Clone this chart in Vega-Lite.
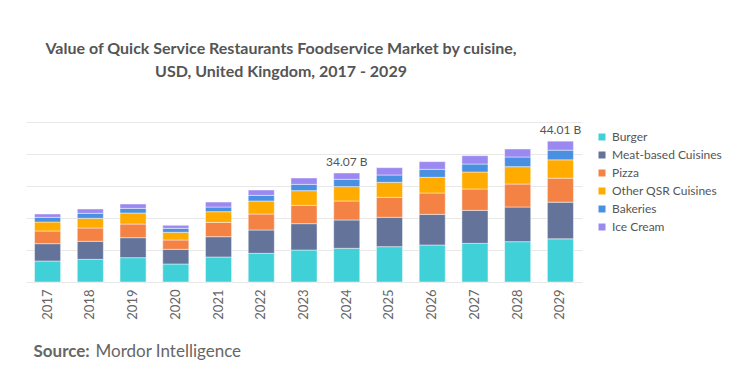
{
  "$schema": "https://vega.github.io/schema/vega-lite/v6.json",
  "width": 556,
  "height": 160,
  "autosize": "none",
  "padding": {"left": 26, "top": 122, "right": 167, "bottom": 85},
  "background": "white",
  "config": {"font": "Lato", "view": {"stroke": null}},
  "title": {
    "text": ["Value of Quick Service Restaurants Foodservice Market by cuisine,", "USD, United Kingdom, 2017 - 2029"],
    "fontSize": 16,
    "fontWeight": "bold",
    "color": "#555555",
    "font": "Lato",
    "anchor": "middle",
    "dx": -23,
    "lineHeight": 23,
    "offset": 42
  },
  "datasets": {
    "segments": [
      {"year": "2017", "cuisine": "Burger", "value": 6.56},
      {"year": "2017", "cuisine": "Meat-based Cuisines", "value": 5.42},
      {"year": "2017", "cuisine": "Pizza", "value": 3.96},
      {"year": "2017", "cuisine": "Other QSR Cuisines", "value": 2.81},
      {"year": "2017", "cuisine": "Bakeries", "value": 1.46},
      {"year": "2017", "cuisine": "Ice Cream", "value": 1.04},
      {"year": "2018", "cuisine": "Burger", "value": 7.08},
      {"year": "2018", "cuisine": "Meat-based Cuisines", "value": 5.63},
      {"year": "2018", "cuisine": "Pizza", "value": 4.17},
      {"year": "2018", "cuisine": "Other QSR Cuisines", "value": 3.02},
      {"year": "2018", "cuisine": "Bakeries", "value": 1.56},
      {"year": "2018", "cuisine": "Ice Cream", "value": 1.35},
      {"year": "2019", "cuisine": "Burger", "value": 7.6},
      {"year": "2019", "cuisine": "Meat-based Cuisines", "value": 6.25},
      {"year": "2019", "cuisine": "Pizza", "value": 4.27},
      {"year": "2019", "cuisine": "Other QSR Cuisines", "value": 3.44},
      {"year": "2019", "cuisine": "Bakeries", "value": 1.46},
      {"year": "2019", "cuisine": "Ice Cream", "value": 1.35},
      {"year": "2020", "cuisine": "Burger", "value": 5.63},
      {"year": "2020", "cuisine": "Meat-based Cuisines", "value": 4.58},
      {"year": "2020", "cuisine": "Pizza", "value": 2.92},
      {"year": "2020", "cuisine": "Other QSR Cuisines", "value": 2.4},
      {"year": "2020", "cuisine": "Bakeries", "value": 1.25},
      {"year": "2020", "cuisine": "Ice Cream", "value": 0.94},
      {"year": "2021", "cuisine": "Burger", "value": 7.81},
      {"year": "2021", "cuisine": "Meat-based Cuisines", "value": 6.35},
      {"year": "2021", "cuisine": "Pizza", "value": 4.48},
      {"year": "2021", "cuisine": "Other QSR Cuisines", "value": 3.33},
      {"year": "2021", "cuisine": "Bakeries", "value": 1.46},
      {"year": "2021", "cuisine": "Ice Cream", "value": 1.56},
      {"year": "2022", "cuisine": "Burger", "value": 8.96},
      {"year": "2022", "cuisine": "Meat-based Cuisines", "value": 7.29},
      {"year": "2022", "cuisine": "Pizza", "value": 5.0},
      {"year": "2022", "cuisine": "Other QSR Cuisines", "value": 4.06},
      {"year": "2022", "cuisine": "Bakeries", "value": 1.77},
      {"year": "2022", "cuisine": "Ice Cream", "value": 1.67},
      {"year": "2023", "cuisine": "Burger", "value": 10.0},
      {"year": "2023", "cuisine": "Meat-based Cuisines", "value": 8.23},
      {"year": "2023", "cuisine": "Pizza", "value": 5.73},
      {"year": "2023", "cuisine": "Other QSR Cuisines", "value": 4.58},
      {"year": "2023", "cuisine": "Bakeries", "value": 1.98},
      {"year": "2023", "cuisine": "Ice Cream", "value": 1.98},
      {"year": "2024", "cuisine": "Burger", "value": 10.53},
      {"year": "2024", "cuisine": "Meat-based Cuisines", "value": 8.85},
      {"year": "2024", "cuisine": "Pizza", "value": 5.94},
      {"year": "2024", "cuisine": "Other QSR Cuisines", "value": 4.48},
      {"year": "2024", "cuisine": "Bakeries", "value": 2.29},
      {"year": "2024", "cuisine": "Ice Cream", "value": 1.98},
      {"year": "2025", "cuisine": "Burger", "value": 11.04},
      {"year": "2025", "cuisine": "Meat-based Cuisines", "value": 9.17},
      {"year": "2025", "cuisine": "Pizza", "value": 6.25},
      {"year": "2025", "cuisine": "Other QSR Cuisines", "value": 4.69},
      {"year": "2025", "cuisine": "Bakeries", "value": 2.29},
      {"year": "2025", "cuisine": "Ice Cream", "value": 2.29},
      {"year": "2026", "cuisine": "Burger", "value": 11.56},
      {"year": "2026", "cuisine": "Meat-based Cuisines", "value": 9.58},
      {"year": "2026", "cuisine": "Pizza", "value": 6.67},
      {"year": "2026", "cuisine": "Other QSR Cuisines", "value": 4.9},
      {"year": "2026", "cuisine": "Bakeries", "value": 2.5},
      {"year": "2026", "cuisine": "Ice Cream", "value": 2.4},
      {"year": "2027", "cuisine": "Burger", "value": 12.08},
      {"year": "2027", "cuisine": "Meat-based Cuisines", "value": 10.31},
      {"year": "2027", "cuisine": "Pizza", "value": 6.67},
      {"year": "2027", "cuisine": "Other QSR Cuisines", "value": 5.31},
      {"year": "2027", "cuisine": "Bakeries", "value": 2.5},
      {"year": "2027", "cuisine": "Ice Cream", "value": 2.6},
      {"year": "2028", "cuisine": "Burger", "value": 12.6},
      {"year": "2028", "cuisine": "Meat-based Cuisines", "value": 10.83},
      {"year": "2028", "cuisine": "Pizza", "value": 7.19},
      {"year": "2028", "cuisine": "Other QSR Cuisines", "value": 5.42},
      {"year": "2028", "cuisine": "Bakeries", "value": 3.02},
      {"year": "2028", "cuisine": "Ice Cream", "value": 2.5},
      {"year": "2029", "cuisine": "Burger", "value": 13.49},
      {"year": "2029", "cuisine": "Meat-based Cuisines", "value": 11.46},
      {"year": "2029", "cuisine": "Pizza", "value": 7.5},
      {"year": "2029", "cuisine": "Other QSR Cuisines", "value": 5.73},
      {"year": "2029", "cuisine": "Bakeries", "value": 3.02},
      {"year": "2029", "cuisine": "Ice Cream", "value": 2.81}
    ],
    "cuisineOrder": [
      {"cuisine": "Burger", "rank": 1},
      {"cuisine": "Meat-based Cuisines", "rank": 2},
      {"cuisine": "Pizza", "rank": 3},
      {"cuisine": "Other QSR Cuisines", "rank": 4},
      {"cuisine": "Bakeries", "rank": 5},
      {"cuisine": "Ice Cream", "rank": 6}
    ],
    "totals": [
      {"year": "2024", "value": 34.07, "label": "34.07 B"},
      {"year": "2029", "value": 44.01, "label": "44.01 B"}
    ]
  },
  "encoding": {
    "x": {
      "field": "year",
      "type": "ordinal",
      "scale": {"paddingInner": 0.39, "paddingOuter": 0.2},
      "axis": {
        "title": "Mordor Intelligence",
        "titleFont": "Lato",
        "titleFontSize": 17,
        "titleFontWeight": "normal",
        "titleColor": "#666666",
        "titleAnchor": "start",
        "titleAlign": "left",
        "titleBaseline": "alphabetic",
        "titleX": 69,
        "titleY": 74,
        "labelAngle": -90,
        "labelFontSize": 13,
        "labelColor": "#666666",
        "labelPadding": 7,
        "ticks": false,
        "domain": false,
        "grid": false
      }
    },
    "y": {
      "field": "value",
      "type": "quantitative",
      "scale": {"domain": [0, 50]},
      "axis": {
        "title": "Source:",
        "titleFont": "Lato",
        "titleFontSize": 17,
        "titleFontWeight": "bold",
        "titleColor": "#666666",
        "titleAngle": 0,
        "titleAlign": "left",
        "titleBaseline": "alphabetic",
        "titleX": 7,
        "titleY": 234,
        "labels": false,
        "ticks": false,
        "domain": false,
        "values": [0, 10, 20, 30, 40, 50],
        "gridColor": "#e8e8e8",
        "gridWidth": 1
      }
    }
  },
  "layer": [
    {
      "data": {"name": "segments"},
      "transform": [
        {"lookup": "cuisine", "from": {"data": {"name": "cuisineOrder"}, "key": "cuisine", "fields": ["rank"]}}
      ],
      "mark": {"type": "bar", "stroke": "white", "strokeOpacity": 0.45, "strokeWidth": 1},
      "encoding": {
        "color": {
          "field": "cuisine",
          "type": "nominal",
          "sort": ["Burger", "Meat-based Cuisines", "Pizza", "Other QSR Cuisines", "Bakeries", "Ice Cream"],
          "scale": {
            "domain": ["Burger", "Meat-based Cuisines", "Pizza", "Other QSR Cuisines", "Bakeries", "Ice Cream"],
            "range": ["#40d0d8", "#63739a", "#f48245", "#ffab00", "#4a90e2", "#9b88f0"]
          },
          "legend": {
            "title": null,
            "orient": "none",
            "legendX": 570,
            "legendY": 9,
            "padding": 0,
            "symbolType": "square",
            "symbolSize": 49,
            "symbolStrokeWidth": 0,
            "labelFont": "Lato",
            "labelFontSize": 12,
            "labelColor": "#555555",
            "labelOffset": 4,
            "rowPadding": 6
          }
        },
        "order": {"field": "rank", "type": "quantitative", "sort": "ascending"}
      }
    },
    {
      "data": {"name": "totals"},
      "mark": {"type": "text", "baseline": "bottom", "dy": -4, "fontSize": 12, "color": "#555555", "font": "Lato"},
      "encoding": {
        "text": {"field": "label"}
      }
    }
  ]
}
